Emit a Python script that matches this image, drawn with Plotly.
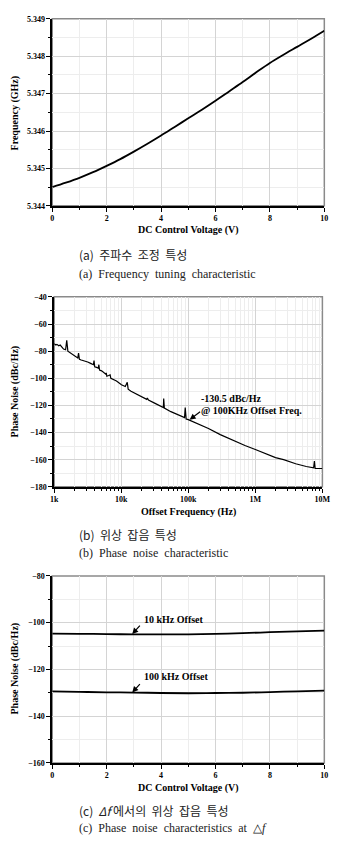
import math
import plotly.graph_objects as go

# ---------------- Data ----------------
# (a) Frequency tuning characteristic
tune_voltage = [0, 0.5, 1, 1.5, 2, 2.5, 3, 3.5, 4, 4.5, 5, 5.5, 6, 6.5, 7, 7.5, 8, 8.5, 9, 9.5, 10]
tune_freq_ghz = [5.34450, 5.34462, 5.34475, 5.34490, 5.34507, 5.34525, 5.34545, 5.34566,
                 5.34588, 5.34611, 5.34634, 5.34657, 5.34681, 5.34706, 5.34731, 5.34757,
                 5.34782, 5.34804, 5.34825, 5.34846, 5.34868]

# (b) Phase noise characteristic
pn_offset_hz = [1000, 1060, 1100, 1170, 1230, 1300, 1380, 1480, 1540, 1600, 1700, 1920, 2100,
                2250, 2310, 2380, 2530, 2820, 3160, 3500, 3850, 3930, 4020, 4300, 4550, 4640,
                4750, 5100, 5470, 5900, 5980, 6100, 6500, 6830, 7000, 7620, 8500, 10070, 11500,
                12300, 12700, 14000, 17000, 21800, 24000, 24500, 25500, 32000, 40000, 42500,
                43000, 44000, 55000, 70000, 85000, 88000, 90000, 93000, 100000, 150000, 200000,
                300000, 500000, 700000, 1000000, 1500000, 2000000, 2640000, 4000000, 5750000,
                7400000, 7600000, 7800000, 8500000, 10000000]
pn_dbc = [-74.5, -75.5, -75, -76, -75.5, -77, -78.5, -79, -72, -80, -81, -83, -84,
          -85, -81.5, -86, -86.5, -87, -88, -89, -90, -87, -91.5, -92, -92.5, -90,
          -94, -94.5, -95.5, -97, -96, -98.5, -98, -97.5, -100, -101, -102, -104.8, -106,
          -103, -108, -109.5, -111.5, -114, -115.5, -114.5, -116, -118.5, -121, -121.5,
          -115, -122, -124.6, -127, -128.5, -129, -121.5, -130, -130.5, -134, -137,
          -141.5, -146.5, -149.5, -152.5, -156, -158.5, -160, -163, -165,
          -166, -161, -166.5, -166.5, -166.5]

# (c) Phase noise vs control voltage
pnv_voltage = [0, 1, 2, 3, 4, 5, 6, 7, 8, 9, 10]
pn_10k = [-104.7, -104.8, -104.9, -105.0, -105.0, -105.0, -104.8, -104.5, -104.1, -103.7, -103.4]
pn_100k = [-129.4, -129.6, -129.8, -129.9, -130.1, -130.2, -130.1, -130.0, -129.7, -129.4, -129.1]

volt_ticks = [0, 2, 4, 6, 8, 10]
freq_ticks = [5.344, 5.345, 5.346, 5.347, 5.348, 5.349]
log_tick_vals = [1e3, 1e4, 1e5, 1e6, 1e7]
log_tick_text = ["1k", "10k", "100k", "1M", "10M"]
pn_ticks = [-180, -160, -140, -120, -100, -80, -60, -40]
pnv_ticks = [-160, -140, -120, -100, -80]

captions = [
    ("(a)  주파수  조정  특성", "(a)  Frequency  tuning  characteristic"),
    ("(b)  위상  잡음  특성", "(b)  Phase  noise  characteristic"),
    ("(c)  <i>Δf</i> 에서의  위상  잡음  특성", "(c)  Phase  noise  characteristics  at  △<i>f</i>"),
]

# ---------------- Layout helpers ----------------
W, H = 341, 851
SERIF = "Liberation Serif"
CJK = "Noto Sans CJK KR"


def px_x(p):
    return p / W


def px_y(p):
    return 1 - p / H


tickfont = dict(family=SERIF, size=8, color="black", weight="bold")
GRID = "#d4d4d4"
MINOR_GRID = "#ededed"


def axis_common():
    return dict(
        showline=True, linecolor="black", linewidth=1.5, mirror=False,
        ticks="outside", ticklen=4, tickwidth=1.2, tickcolor="black",
        showgrid=True, gridcolor=GRID, gridwidth=1,
        tickfont=tickfont, zeroline=False,
    )


fig = go.Figure()

fig.add_trace(go.Scatter(x=tune_voltage, y=tune_freq_ghz, mode="lines", line_shape="spline",
                         line=dict(color="black", width=1.8), xaxis="x", yaxis="y",
                         showlegend=False))
fig.add_trace(go.Scatter(x=pn_offset_hz, y=pn_dbc, mode="lines",
                         line=dict(color="black", width=1.2), xaxis="x2", yaxis="y2",
                         showlegend=False))
fig.add_trace(go.Scatter(x=pnv_voltage, y=pn_10k, mode="lines", line_shape="spline",
                         line=dict(color="black", width=1.8), xaxis="x3", yaxis="y3",
                         showlegend=False))
fig.add_trace(go.Scatter(x=pnv_voltage, y=pn_100k, mode="lines", line_shape="spline",
                         line=dict(color="black", width=1.8), xaxis="x3", yaxis="y3",
                         showlegend=False))

# domains (pixel measurements from reference)
d1x = [px_x(50), px_x(332)]
d1y = [px_y(204), px_y(15)]
d2x = [px_x(52), px_x(330)]
d2y = [px_y(488), px_y(296)]
d3x = [px_x(50), px_x(332)]
d3y = [px_y(767), px_y(578)]

minor_lin = dict(showgrid=True, gridcolor=MINOR_GRID, ticks="outside", ticklen=2,
                 tickcolor="black", tickwidth=1)

fig.update_layout(
    width=W, height=H,
    margin=dict(l=0, r=0, t=0, b=0),
    paper_bgcolor="white", plot_bgcolor="white",
    xaxis=dict(domain=d1x, anchor="y", range=[0, 10], tickvals=volt_ticks,
               minor=dict(dtick=1, **minor_lin), **axis_common()),
    yaxis=dict(domain=d1y, anchor="x", range=[5.344, 5.349], tickvals=freq_ticks,
               tickformat=".3f", minor=dict(dtick=0.0005, **minor_lin), **axis_common()),
    xaxis2=dict(domain=d2x, anchor="y2", type="log", range=[3, 7], tickvals=log_tick_vals,
                ticktext=log_tick_text, minor=dict(dtick="D1", **minor_lin), **axis_common()),
    yaxis2=dict(domain=d2y, anchor="x2", range=[-180, -40], tickvals=pn_ticks,
                minor=dict(dtick=10, **minor_lin), **axis_common()),
    xaxis3=dict(domain=d3x, anchor="y3", range=[0, 10], tickvals=volt_ticks,
                minor=dict(dtick=1, **minor_lin), **axis_common()),
    yaxis3=dict(domain=d3y, anchor="x3", range=[-160, -80], tickvals=pnv_ticks,
                minor=dict(dtick=10, **minor_lin), **axis_common()),
)

# gray frame (top/right)
for xr, yr in [("x domain", "y domain"), ("x2 domain", "y2 domain"), ("x3 domain", "y3 domain")]:
    fig.add_shape(type="rect", xref=xr, yref=yr, x0=0, x1=1, y0=0, y1=1,
                  line=dict(color="#8a8a8a", width=1.5), layer="below")

title_font = dict(family=SERIF, size=10, color="black", weight="bold")
ann = []


def paper_text(text, x, y, font, angle=0, xanchor="center"):
    ann.append(dict(text=text, x=px_x(x), y=px_y(y), xref="paper", yref="paper",
                    xanchor=xanchor, yanchor="middle", showarrow=False, textangle=angle,
                    font=font))


# axis titles
paper_text("DC Control Voltage (V)", 191, 228, title_font)
paper_text("Offset Frequency (Hz)", 191, 513, title_font)
paper_text("DC Control Voltage (V)", 191, 792, title_font)
paper_text("Frequency (GHz)", 11, 110, title_font, angle=-90)
paper_text("Phase Noise (dBc/Hz)", 11, 392, title_font, angle=-90)
paper_text("Phase Noise (dBc/Hz)", 11, 672, title_font, angle=-90)

# captions
cap_y = [(253, 273), (536, 555), (815, 833)]
for (kr, en), (yk, ye) in zip(captions, cap_y):
    paper_text(kr, 76, yk, dict(family=CJK + ", " + SERIF, size=12, color="#222"), xanchor="left")
    paper_text(en, 76, ye, dict(family=SERIF, size=12, color="#222"), xanchor="left")

# plot (b) annotation
ann_font = dict(family=SERIF, size=10, color="black", weight="bold")
ann.append(dict(text="-130.5 dBc/Hz", x=5.16, y=-115, xref="x2", yref="y2", xanchor="left",
                yanchor="middle", showarrow=False, font=ann_font))
ann.append(dict(text="@ 100KHz Offset Freq.", x=5.16, y=-123.6, xref="x2", yref="y2",
                xanchor="left", yanchor="middle", showarrow=False, font=ann_font))
ann.append(dict(text="", x=5.02, y=-130.5, xref="x2", yref="y2", showarrow=True,
                arrowhead=2, arrowsize=1, arrowwidth=1.2, arrowcolor="black", ax=12, ay=-9))

# plot (c) annotations
ann.append(dict(text="10 kHz Offset", x=3.3, y=-98.7, xref="x3", yref="y3", xanchor="left",
                yanchor="middle", showarrow=False, font=ann_font))
ann.append(dict(text="", x=2.94, y=-104.9, xref="x3", yref="y3", showarrow=True,
                arrowhead=2, arrowsize=1, arrowwidth=1.2, arrowcolor="black", ax=9, ay=-10))
ann.append(dict(text="100 kHz Offset", x=3.3, y=-123, xref="x3", yref="y3", xanchor="left",
                yanchor="middle", showarrow=False, font=ann_font))
ann.append(dict(text="", x=2.94, y=-129.9, xref="x3", yref="y3", showarrow=True,
                arrowhead=2, arrowsize=1, arrowwidth=1.2, arrowcolor="black", ax=9, ay=-10))

fig.update_layout(annotations=ann)

fig.write_html("out.html")
